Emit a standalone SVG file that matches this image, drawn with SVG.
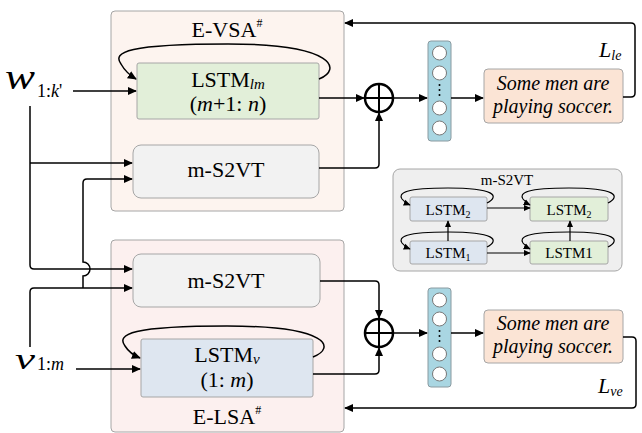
<svg xmlns="http://www.w3.org/2000/svg" width="642" height="433" viewBox="0 0 642 433">
  <style>
    text { font-family: 'Liberation Serif', 'Times New Roman', serif; fill: #000; }
    .it { font-style: italic; }
    .box { stroke: #a6a6a6; stroke-width: 1; }
    .ln { fill: none; stroke: #000; stroke-width: 1.5; }
    .lnA { fill: none; stroke: #000; stroke-width: 1.5; marker-end: url(#ah); }
    .lnS { fill: none; stroke: #000; stroke-width: 1.2; marker-end: url(#ahs); }
    .t22 { font-size: 22px; }
    .t15 { font-size: 15px; }
  </style>
  <defs>
    <marker id="ah" viewBox="0 0 10 10" refX="9" refY="5" markerWidth="9" markerHeight="9" markerUnits="userSpaceOnUse" orient="auto">
      <path d="M0,0.5 L10,5 L0,9.5 Z" fill="#000"/>
    </marker>
    <marker id="ahs" viewBox="0 0 10 10" refX="9" refY="5" markerWidth="7" markerHeight="7" markerUnits="userSpaceOnUse" orient="auto">
      <path d="M0,0.5 L10,5 L0,9.5 Z" fill="#000"/>
    </marker>
  </defs>

  <rect width="642" height="433" fill="#fff"/>

  <!-- E-VSA encoder block -->
  <g id="e-vsa">
    <rect class="box" x="111" y="11" width="233" height="200" rx="4" fill="#fdf4ef"/>
    <text class="t22" x="227" y="37" text-anchor="middle">E-VSA<tspan font-size="12" dy="-10">#</tspan></text>
  </g>
  <g id="lstm-lm">
    <rect class="box" x="137" y="63" width="182" height="56" rx="2" fill="#e2efd9"/>
    <text class="t22" x="228" y="87" text-anchor="middle">LSTM<tspan class="it" font-size="15" dy="2">lm</tspan></text>
    <text class="t22" x="228" y="111" text-anchor="middle">(<tspan class="it">m</tspan>+1: <tspan class="it">n</tspan>)</text>
  </g>
  <g id="s2vt-top">
    <rect class="box" x="133" y="145" width="186" height="53" rx="8" fill="#f2f2f2"/>
    <text class="t22" x="226" y="177" text-anchor="middle">m-S2VT</text>
  </g>

  <!-- E-LSA encoder block -->
  <g id="e-lsa">
    <rect class="box" x="111" y="240" width="233" height="192" rx="4" fill="#fcf0ef"/>
    <text class="t22" x="227" y="424" text-anchor="middle">E-LSA<tspan font-size="12" dy="-10">#</tspan></text>
  </g>
  <g id="s2vt-bottom">
    <rect class="box" x="133" y="254" width="187" height="53" rx="8" fill="#f2f2f2"/>
    <text class="t22" x="226" y="288" text-anchor="middle">m-S2VT</text>
  </g>
  <g id="lstm-v">
    <rect class="box" x="141" y="339" width="172" height="58" rx="2" fill="#dee6f0"/>
    <text class="t22" x="227" y="362" text-anchor="middle">LSTM<tspan class="it" font-size="15" dy="2">v</tspan></text>
    <text class="t22" x="227" y="387" text-anchor="middle">(1: <tspan class="it">m</tspan>)</text>
  </g>

  <!-- inputs -->
  <g id="input-w">
    <text x="5" y="89" class="it" font-size="36" textLength="30" lengthAdjust="spacingAndGlyphs">w</text>
    <text x="37" y="97" font-size="18">1:<tspan class="it">k</tspan>'</text>
  </g>
  <g id="input-v">
    <text x="15" y="369" class="it" font-size="30" textLength="20" lengthAdjust="spacingAndGlyphs">v</text>
    <text x="37" y="370" font-size="18">1:<tspan class="it">m</tspan></text>
  </g>

  <!-- fusion nodes -->
  <g id="sum-top">
    <circle cx="379" cy="98" r="14" fill="#fff" stroke="#000" stroke-width="2.5"/>
    <path d="M365,98 H393 M379,84 V112" stroke="#000" stroke-width="2"/>
  </g>
  <g id="sum-bottom">
    <circle cx="379" cy="333" r="14" fill="#fff" stroke="#000" stroke-width="2.5"/>
    <path d="M365,333 H393 M379,319 V347" stroke="#000" stroke-width="2"/>
  </g>

  <!-- output vectors -->
  <g id="vec-top">
    <rect x="428" y="41" width="23" height="100" rx="3" fill="#a9d6e2" stroke="#8a9aa0" stroke-width="1"/>
    <g fill="#fff" stroke="#777" stroke-width="1">
      <circle cx="439.5" cy="53" r="7"/>
      <circle cx="439.5" cy="73" r="7"/>
      <circle cx="439.5" cy="108" r="7"/>
      <circle cx="439.5" cy="128" r="7"/>
    </g>
    <g fill="#000">
      <circle cx="439.5" cy="85" r="1"/>
      <circle cx="439.5" cy="90" r="1"/>
      <circle cx="439.5" cy="95" r="1"/>
    </g>
  </g>
  <g id="vec-bottom">
    <rect x="428" y="288" width="23" height="99" rx="3" fill="#a9d6e2" stroke="#8a9aa0" stroke-width="1"/>
    <g fill="#fff" stroke="#777" stroke-width="1">
      <circle cx="439.5" cy="300" r="7"/>
      <circle cx="439.5" cy="319" r="7"/>
      <circle cx="439.5" cy="354" r="7"/>
      <circle cx="439.5" cy="374" r="7"/>
    </g>
    <g fill="#000">
      <circle cx="439.5" cy="331" r="1"/>
      <circle cx="439.5" cy="336" r="1"/>
      <circle cx="439.5" cy="341" r="1"/>
    </g>
  </g>

  <!-- generated sentences -->
  <g id="sent-top">
    <rect class="box" x="484" y="69" width="139" height="54" rx="4" fill="#fbe4d5"/>
    <text x="553" y="90" class="it" font-size="20" text-anchor="middle">Some men are</text>
    <text x="553" y="113" class="it" font-size="20" text-anchor="middle">playing soccer.</text>
  </g>
  <g id="sent-bottom">
    <rect class="box" x="484" y="310" width="139" height="53" rx="4" fill="#fbe4d5"/>
    <text x="553" y="330" class="it" font-size="20" text-anchor="middle">Some men are</text>
    <text x="553" y="353" class="it" font-size="20" text-anchor="middle">playing soccer.</text>
  </g>

  <!-- loss labels -->
  <g id="loss-le">
    <text x="599" y="57" class="it" font-size="22">L<tspan font-size="14" dy="3">le</tspan></text>
  </g>
  <g id="loss-ve">
    <text x="598" y="393" class="it" font-size="22">L<tspan font-size="14" dy="3">ve</tspan></text>
  </g>

  <!-- m-S2VT detail inset -->
  <g id="s2vt-inset">
    <rect x="393" y="169" width="229" height="102" rx="7" fill="#efefef" stroke="#a6a6a6" stroke-width="1"/>
    <text class="t15" x="507" y="185" text-anchor="middle">m-S2VT</text>
    <g id="inset-enc2">
      <rect class="box" x="410" y="197" width="77" height="24" rx="2" fill="#dee6f0"/>
      <text class="t15" x="448" y="215" text-anchor="middle">LSTM<tspan font-size="10" dy="3">2</tspan></text>
    </g>
    <g id="inset-dec2">
      <rect class="box" x="530" y="197" width="78" height="24" rx="2" fill="#e2efd9"/>
      <text class="t15" x="569" y="215" text-anchor="middle">LSTM<tspan font-size="10" dy="3">2</tspan></text>
    </g>
    <g id="inset-enc1">
      <rect class="box" x="410" y="241" width="77" height="23" rx="2" fill="#dee6f0"/>
      <text class="t15" x="448" y="258" text-anchor="middle">LSTM<tspan font-size="10" dy="3">1</tspan></text>
    </g>
    <g id="inset-dec1">
      <rect class="box" x="530" y="241" width="78" height="23" rx="2" fill="#e2efd9"/>
      <text class="t15" x="569" y="258" text-anchor="middle">LSTM1</text>
    </g>
    <g id="inset-links">
      <path class="lnS" d="M487,208 H530"/>
      <path class="lnS" d="M487,253 H530"/>
      <path class="lnS" d="M448,241 V221"/>
      <path class="lnS" d="M570,241 V221"/>
      <path class="lnS" d="M487,203 C500,196 495,188 448,188 C405,188 398,193 402,199 Q405,203 410,205"/>
      <path class="lnS" d="M608,203 C621,196 616,188 569,188 C526,188 519,193 523,199 Q526,203 530,205"/>
      <path class="lnS" d="M487,247 C500,240 495,232 448,232 C405,232 398,237 402,243 Q405,247 410,249"/>
      <path class="lnS" d="M608,247 C621,240 616,232 569,232 C526,232 519,237 523,243 Q526,247 530,249"/>
    </g>
  </g>

  <!-- connectors -->
  <g id="connectors">
    <!-- recurrent loops -->
    <path class="lnA" d="M319,79 C342,70 336,44 228,44 C128,44 112,52 121,64 Q126,73 136,79"/>
    <path class="lnA" d="M313,357 C336,348 330,326 227,326 C132,326 116,334 125,346 Q130,354 140,358"/>
    <!-- word input -->
    <path class="lnA" d="M73,91 H136"/>
    <path class="ln" d="M30,106 V265 Q30,269 34,269"/>
    <path class="lnA" d="M30,163 H132"/>
    <path class="lnA" d="M34,269 H132"/>
    <!-- visual input -->
    <path class="lnA" d="M76,369 H140"/>
    <path class="ln" d="M30,347 V292 Q30,288 34,288"/>
    <path class="lnA" d="M34,288 H132"/>
    <path class="ln" d="M83,288 V276 A7,7 0 0,0 83,262 V183 Q83,179 87,179"/>
    <path class="lnA" d="M87,179 H132"/>
    <!-- top branch to fusion -->
    <path class="lnA" d="M319,98 H364"/>
    <path class="lnA" d="M319,168 H375 Q379,168 379,164 V113"/>
    <path class="lnA" d="M393,98 H427"/>
    <path class="lnA" d="M451,98 H483"/>
    <!-- bottom branch to fusion -->
    <path class="lnA" d="M320,281 H375 Q379,281 379,285 V318"/>
    <path class="lnA" d="M313,374 H375 Q379,374 379,370 V348"/>
    <path class="lnA" d="M393,333 H427"/>
    <path class="lnA" d="M451,333 H483"/>
    <!-- loss feedback -->
    <path class="lnA" d="M623,97 H631 Q635,97 635,93 V27 Q635,23 631,23 H345"/>
    <path class="lnA" d="M623,337 H632 Q636,337 636,341 V404 Q636,408 632,408 H345"/>
  </g>
</svg>
